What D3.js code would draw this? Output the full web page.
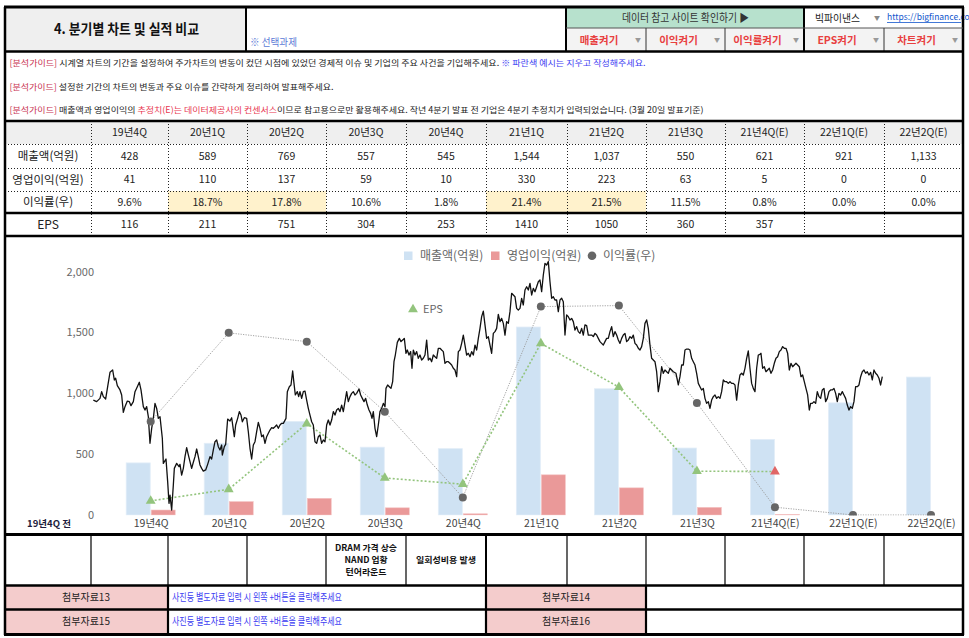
<!DOCTYPE html>
<html><head><meta charset="utf-8">
<script src="https://cdn.jsdelivr.net/npm/d3@7"></script>
<style>
body{margin:0;background:#fff}
svg{display:block}
text{font-family:"Noto Sans CJK KR","Noto Sans",sans-serif}
</style>
</head><body>
<svg id="c" width="969" height="638"></svg>
<script>
// ---------------- DATA ----------------
const quarters = ["19년4Q","20년1Q","20년2Q","20년3Q","20년4Q","21년1Q","21년2Q","21년3Q","21년4Q(E)","22년1Q(E)","22년2Q(E)"];
const sales    = [428,589,769,557,545,1544,1037,550,621,921,1133];
const opProfit = [41,110,137,59,10,330,223,63,5,0,0];
const margin   = [9.6,18.7,17.8,10.6,1.8,21.4,21.5,11.5,0.8,0.0,0.0];
const eps      = [116,211,751,304,253,1410,1050,360,357,null,null];
const epsEstimated = [false,false,false,false,false,false,false,false,true,false,false];
const marginHighlight = [false,true,true,false,false,true,true,false,false,false,false];
const leftTicks = [0,500,1000,1500,2000];
const rowLabels = ["매출액(억원)","영업이익(억원)","이익률(우)","EPS"];
const events = ["","","","DRAM 가격 상승|NAND 업황|턴어라운드","일회성비용 발생","","","","","",""];
const legendItems = ["매출액(억원)","영업이익(억원)","이익률(우)"];
const buttons = ["매출켜기","이익켜기","이익률켜기","EPS켜기","차트켜기"];
const attachments = [["첨부자료13","첨부자료14"],["첨부자료15","첨부자료16"]];
// stock price trace: [session index, price in chart units]
const priceSeries = [[1,944],[11,931],[21,958],[26,1013],[31,972],[38,953],[44,1054],[51,1172],[59,1191],[64,1109],[68,1123],[73,1062],[81,1027],[86,986],[91,843],[96,890],[103,936],[109,931],[114,898],[121,931],[126,1013],[133,1054],[139,1090],[144,1027],[151,890],[156,862],[161,890],[166,808],[171,589],[176,712],[181,794],[186,917],[191,876],[196,794],[201,808],[208,630],[211,424],[219,460],[224,274],[228,96],[231,164],[236,41],[241,246],[244,383],[251,424],[258,397],[261,416],[266,328],[271,383],[276,479],[281,553],[286,493],[291,438],[296,383],[301,433],[306,479],[311,542],[316,479],[321,411],[326,383],[331,361],[338,370],[344,416],[351,479],[356,460],[361,534],[366,602],[371,616],[376,561],[381,534],[386,575],[388,493],[394,561],[398,580],[404,788],[411,772],[416,799],[424,643],[428,739],[434,794],[439,849],[444,821],[448,766],[454,799],[461,794],[466,684],[471,548],[476,460],[481,575],[486,602],[491,684],[496,761],[501,712],[506,643],[511,657],[516,589],[521,643],[526,671],[531,698],[536,717],[541,712],[546,725],[551,739],[556,712],[561,739],[566,753],
[571,753],[579,794],[583,1013],[589,1054],[594,1068],[599,1183],[603,1081],[607,986],[613,1013],[617,972],[621,1013],[626,958],[631,1013],[636,1018],[641,944],[646,876],[651,821],[656,766],[661,739],[666,602],[671,589],[676,643],[681,657],[686,589],[691,616],[696,602],[701,739],[706,780],[711,739],[716,780],[721,849],[726,821],[731,862],[736,876],[741,849],[746,903],[751,849],[756,931],[761,1013],[766,931],[771,972],[776,999],[781,1013],[786,986],[791,999],[798,1035],[803,986],[808,958],[813,931],[818,958],[823,903],[828,862],[833,835],[837,794],[841,849],[846,712],[851,643],[856,739],[861,849],[866,876],[871,917],[876,890],[879,1040],[884,1068],[889,1054],[894,1040],[899,1095],[903,1259],[907,1314],[913,1418],[919,1451],[924,1424],[929,1437],[934,1451],[939,1328],[943,1355],[948,1314],[953,1342],[957,1205],[961,1355],[966,1314],[971,1342],[976,1287],[981,1314],[986,1273],[991,1287],[996,1314],[1001,1437],[1006,1273],[1011,1287],[1016,1259],[1021,1314],[1026,1300],[1031,1287],[1036,1369],[1041,1369],[1046,1355],[1051,1342],[1056,1246],[1061,1259],[1066,1259],[1071,1246],[1076,1232],[1081,1205],[1086,1191],[1091,1136],[1096,1342],[1101,1355],[1106,1410],[1111,1478],[1116,1396],[1121,1314],[1126,1328],[1131,1300],[1136,1342],[1141,1314],
[1146,1396],[1151,1355],[1156,1451],[1161,1533],[1166,1629],[1171,1675],[1176,1561],[1181,1451],[1186,1465],[1191,1396],[1196,1328],[1201,1492],[1206,1506],[1211,1533],[1216,1648],[1221,1588],[1226,1615],[1231,1574],[1236,1478],[1241,1588],[1246,1574],[1251,1670],[1256,1821],[1261,1807],[1266,1793],[1271,1697],[1276,1684],[1281,1697],[1286,1780],[1291,1725],[1296,1848],[1301,1875],[1306,1848],[1311,1903],[1316,1807],[1321,1862],[1326,1834],[1331,1875],[1336,1916],[1341,1930],[1346,1834],[1351,1971],[1356,2067],[1361,2053],[1366,2081],[1371,1916],[1376,1780],[1381,1793],[1386,1766],[1391,1766],[1396,1670],[1401,1766],[1406,1780],[1411,1752],[1416,1478],[1421,1643],[1426,1629],[1431,1602],[1436,1615],[1441,1588],[1446,1519],[1451,1547],[1456,1506],[1461,1492],[1466,1533],[1471,1478],[1476,1561],[1481,1555],[1486,1478],[1491,1478],[1496,1478],[1501,1465],[1506,1492],[1511,1478],[1516,1451],[1521,1424],[1526,1410],[1531,1396],[1536,1424],[1541,1451],[1546,1451],[1551,1506],[1556,1547],[1561,1465],[1566,1506],[1571,1478],[1576,1437],[1581,1410],[1586,1451],[1591,1478],[1596,1492],[1601,1424],[1606,1437],[1611,1465],[1616,1451],[1621,1478],[1626,1410],[1631,1396],[1636,1369],[1641,1355],[1646,1383],[1651,1451],[1656,1574],[1661,1602],[1666,1533],[1671,1396],[1676,1287],[1681,1273],[1686,1259],[1691,1177],[1696,1013],[1701,1095],[1706,1218],[1711,1164],[1716,1191],[1721,1177],[1726,1164],[1731,1205],[1736,1191],[1741,1177],
[1749,1164],[1756,1068],[1761,1136],[1766,1232],[1771,1232],[1776,1355],[1781,1363],[1786,1363],[1791,1355],[1796,1287],[1801,1259],[1806,1232],[1811,1164],[1816,1081],[1821,1054],[1826,1027],[1831,1040],[1836,958],[1841,917],[1846,931],[1851,876],[1856,944],[1861,972],[1866,986],[1871,958],[1876,972],[1881,958],[1886,1013],[1891,1109],[1896,1095],[1901,1095],[1906,1081],[1911,1095],[1916,1081],[1921,1081],[1926,1068],[1931,944],[1936,1068],[1941,1150],[1946,1164],[1951,1150],[1956,1205],[1961,1287],[1966,1347],[1971,1205],[1976,1081],[1981,1040],[1986,1013],[1991,1205],[1996,1314],[2001,1320],[2004,1328],[2009,1205],[2014,1218],[2019,1177],[2024,1191],[2029,1205],[2034,1164],[2039,1191],[2044,1246],[2049,1287],[2054,1300],[2059,1342],[2064,1355],[2069,1383],[2074,1369],[2079,1369],[2084,1328],[2089,1191],[2094,1246],[2099,1218],[2104,1232],[2109,1246],[2114,1232],[2119,1218],[2124,1136],[2129,1150],[2134,1095],[2139,1040],[2144,986],[2149,862],[2153,917],[2158,917],[2163,931],[2168,917],[2173,1013],[2178,972],[2183,958],[2188,1027],[2193,1040],[2198,931],[2203,958],[2208,1013],[2213,1027],[2218,1027],[2223,1040],[2228,999],[2233,931],[2238,999],[2243,986],[2248,1013],[2253,986],[2258,958],[2263,903],[2268,862],[2273,890],[2278,876],[2283,931],[2288,1054],[2293,1054],[2298,1068],[2303,1136],[2308,1177],[2313,1191],[2318,1164],[2323,1177],[2328,1150],[2333,1172],[2338,1109],[2343,1191],[2348,1164],[2353,1150],[2358,1123],[2363,1068],[2368,1136]];

// ---------------- LAYOUT ----------------
const svg = d3.select("#c");
const W = 969, H = 638, L = 5, R = 963;
const colX = [5,91,168,247,326,406,486,567,646,725,804,884,963];
const rowY = [121,144,168,191,213,236];
svg.append("rect").attr("width",W).attr("height",H).attr("fill","#fff");

function txt(g, s, x, y, o = {}) {
  const t = g.append("text").attr("x", x).attr("y", y).attr("dy", "0.35em").text(s)
    .attr("font-size", o.size || 11).attr("fill", o.fill || "#222")
    .attr("text-anchor", o.anchor || "start");
  if (o.bold) t.attr("font-weight", "bold");
  if (o.family) t.attr("font-family", o.family);
  if (o.len) t.attr("textLength", o.len).attr("lengthAdjust", "spacingAndGlyphs");
  return t;
}
function rich(g, x, y, size, len, runs) {
  const t = g.append("text").attr("x", x).attr("y", y).attr("dy", "0.35em").attr("font-size", size)
    .attr("textLength", len).attr("lengthAdjust", "spacingAndGlyphs");
  runs.forEach(r => t.append("tspan").attr("fill", r.fill || "#222").text(r.s));
  return t;
}
function line(x1, y1, x2, y2, w, c, dash) {
  const l = svg.append("line").attr("x1",x1).attr("y1",y1).attr("x2",x2).attr("y2",y2)
    .attr("stroke", c || "#000").attr("stroke-width", w || 1);
  if (dash) l.attr("stroke-dasharray", dash);
  return l;
}

// ---------- header ----------
const hdr = svg.append("g");
hdr.append("rect").attr("x",L).attr("y",7).attr("width",241).attr("height",44).attr("fill","#efefef");
hdr.append("rect").attr("x",566).attr("y",7).attr("width",238).attr("height",21).attr("fill","#b7e1cd");
hdr.append("rect").attr("x",566).attr("y",28).attr("width",397).attr("height",23).attr("fill","#f3f3f3");
txt(hdr, "4. 분기별 차트 및 실적 비교", 54, 29, {size:14, bold:true, fill:"#111", len:145});
txt(hdr, "※ 선택과제", 250, 42, {size:10.5, fill:"#5b7ad6", len:47});
txt(hdr, "데이터 참고 사이트 확인하기 ▶", 622, 18, {size:11, fill:"#333", len:127});
txt(hdr, "빅파이낸스", 815, 18, {size:10.5, fill:"#222", len:45});
txt(hdr, "▼", 877, 18, {size:6, fill:"#888", anchor:"middle"});
txt(hdr, "https://bigfinance.co", 887, 17, {size:8.5, fill:"#1155cc", family:'"Liberation Sans",Arial,sans-serif'});
hdr.append("line").attr("x1",887).attr("x2",961).attr("y1",22.5).attr("y2",22.5).attr("stroke","#1155cc").attr("stroke-width",0.8);
const btnX = [566,646,725,804,884,963];
buttons.forEach((b,i) => {
  const cx = (btnX[i] + btnX[i+1]) / 2 - 7;
  txt(hdr, b, cx, 40, {size:10.5, bold:true, fill:"#e8403f", anchor:"middle"});
  txt(hdr, "▼", btnX[i+1] - 8, 40, {size:6, fill:"#999", anchor:"middle"});
});

// ---------- guide text ----------
const gd = svg.append("g");
const guideColor = "#c8304f";
const gSize = 8.4;
rich(gd, 9.5, 63, gSize, 636, [
  {s:"[분석가이드]", fill:guideColor},
  {s:" 시계열 차트의 기간을 설정하여 주가차트의 변동이 컸던 시점에 있었던 경제적 이슈 및 기업의 주요 사건을 기입해주세요. "},
  {s:" ※ 파란색 예시는 지우고 작성해주세요.", fill:"#3d3df2"}
]);
rich(gd, 9.5, 87, gSize, 324, [
  {s:"[분석가이드]", fill:guideColor},
  {s:" 설정한 기간의 차트의 변동과 주요 이슈를 간략하게 정리하여 발표해주세요."}
]);
rich(gd, 9.5, 110, gSize, 694, [
  {s:"[분석가이드]", fill:guideColor},
  {s:" 매출액과 영업이익의 "},
  {s:"추정치(E)는 데이터제공사의 컨센서스", fill:"#e83850"},
  {s:"이므로 참고용으로만 활용해주세요. 작년 4분기 발표 전 기업은 4분기 추정치가 입력되었습니다. (3월 20일 발표기준)"}
]);

// ---------- data table ----------
const tb = svg.append("g");
tb.append("rect").attr("x",L).attr("y",rowY[0]).attr("width",R-L).attr("height",rowY[1]-rowY[0]).attr("fill","#efefef");
marginHighlight.forEach((h,i) => {
  if (h) tb.append("rect").attr("x",colX[i+1]).attr("y",rowY[3]).attr("width",colX[i+2]-colX[i+1]).attr("height",rowY[4]-rowY[3]).attr("fill","#fff2cc");
});
const cc = i => (colX[i+1] + colX[i+2]) / 2;
const fmt = d3.format(",");
quarters.forEach((q,i) => {
  txt(tb, q, cc(i), (rowY[0]+rowY[1])/2, {size:10.5, fill:"#222", anchor:"middle"});
  txt(tb, fmt(sales[i]), cc(i), (rowY[1]+rowY[2])/2, {size:10.5, anchor:"middle"});
  txt(tb, fmt(opProfit[i]), cc(i), (rowY[2]+rowY[3])/2, {size:10.5, anchor:"middle"});
  txt(tb, margin[i].toFixed(1) + "%", cc(i), (rowY[3]+rowY[4])/2, {size:10.5, anchor:"middle"});
  if (eps[i] != null) txt(tb, String(eps[i]), cc(i), (rowY[4]+rowY[5])/2, {size:10.5, anchor:"middle"});
});
rowLabels.forEach((r,i) => txt(tb, r, 48, (rowY[i+1]+rowY[i+2])/2, {size: i===3 ? 12 : 11.5, anchor:"middle", fill:"#222"}));
colX.slice(1,12).forEach(x => line(x+0.5, rowY[0], x+0.5, rowY[5], 1, "#222", "1,2"));
[rowY[1],rowY[2],rowY[3]].forEach(y => line(L, y+0.5, R, y+0.5, 1, "#222", "1,2"));

// ---------- chart ----------
const chart = svg.append("g");
const x = d3.scalePoint().domain(quarters).range([150.7, 931]);
const y = d3.scaleLinear().domain([0, 2000]).range([515, 271.5]);
const yR = d3.scaleLinear().domain([0, 25]).range([515, 271.5]);
const xP = d3.scaleLinear().domain([0, 2368]).range([93, 882.3]);
const defs = svg.append("defs");
defs.append("clipPath").attr("id","plotClip").append("rect").attr("x",90).attr("y",238).attr("width",872).attr("height",277.5);
const plot = chart.append("g").attr("clip-path","url(#plotClip)");

const ya = chart.append("g").attr("transform","translate(94,0)")
  .call(d3.axisLeft(y).tickValues(leftTicks).tickSize(0).tickPadding(0).tickFormat(d3.format(",")));
ya.select(".domain").remove();
ya.selectAll("text").attr("font-size",11).attr("fill","#6a6a6a").attr("font-family",'"Noto Sans CJK KR",sans-serif');
const xa = chart.append("g").attr("transform","translate(0,515)")
  .call(d3.axisBottom(x).tickSize(0).tickPadding(5));
xa.select(".domain").remove();
xa.selectAll("text").attr("font-size",10.5).attr("fill","#444").attr("font-family",'"Noto Sans CJK KR",sans-serif');
txt(chart, "19년4Q 전", 49, 524, {size:9.5, bold:true, fill:"#1d1d3d", anchor:"middle"});

plot.selectAll(".sb").data(quarters).join("rect").attr("class","sb")
  .attr("x", q => x(q) - 24.5).attr("width", 24)
  .attr("y", (q,i) => y(sales[i])).attr("height", (q,i) => y(0) - y(sales[i]))
  .attr("fill","#cfe2f3").attr("stroke","#e2edf8").attr("stroke-width",0.8);
plot.selectAll(".ob").data(quarters).join("rect").attr("class","ob")
  .attr("x", q => x(q) + 0.5).attr("width", 24)
  .attr("y", (q,i) => y(opProfit[i])).attr("height", (q,i) => y(0) - y(opProfit[i]))
  .attr("fill","#ea9999").attr("stroke","#f4c4c4").attr("stroke-width",0.6);

plot.append("path").datum(margin)
  .attr("d", d3.line().x((d,i) => x(quarters[i])).y(d => yR(d)))
  .attr("fill","none").attr("stroke","#999").attr("stroke-width",0.9).attr("stroke-dasharray","1.2,1.3");
plot.append("path").datum(eps.map((v,i) => [i,v]).filter(d => d[1] != null))
  .attr("d", d3.line().x(d => x(quarters[d[0]])).y(d => y(d[1])))
  .attr("fill","none").attr("stroke","#93c47d").attr("stroke-width",1.6).attr("stroke-dasharray","2,2");
plot.append("path").datum(priceSeries)
  .attr("d", d3.line().x(d => xP(d[0])).y(d => y(d[1])))
  .attr("fill","none").attr("stroke","#111").attr("stroke-width",1.3).attr("stroke-linejoin","round");
plot.selectAll(".md").data(margin).join("circle").attr("class","md")
  .attr("cx", (d,i) => x(quarters[i])).attr("cy", d => yR(d)).attr("r", 4).attr("fill","#666");
const tri = d3.symbol().type(d3.symbolTriangle).size(42);
plot.selectAll(".et").data(eps.map((v,i) => [i,v]).filter(d => d[1] != null)).join("path").attr("class","et")
  .attr("d", tri).attr("transform", d => `translate(${x(quarters[d[0]])},${y(d[1])})`)
  .attr("fill", d => epsEstimated[d[0]] ? "#e06666" : "#93c47d");

const lg = chart.append("g");
const lgX = [404, 491, 592];
const lgTX = [420, 507, 603];
lg.append("rect").attr("x",lgX[0]).attr("y",251.5).attr("width",8.5).attr("height",8.5).attr("fill","#cfe2f3");
lg.append("rect").attr("x",lgX[1]).attr("y",251.5).attr("width",8.5).attr("height",8.5).attr("fill","#ea9999");
lg.append("circle").attr("cx",lgX[2]).attr("cy",255.8).attr("r",4.3).attr("fill","#666");
legendItems.forEach((t,i) => txt(lg, t, lgTX[i], 255.5, {size:12, fill:"#666"}));
lg.append("path").attr("d", tri).attr("transform","translate(413,309.5)").attr("fill","#93c47d");
txt(lg, "EPS", 423, 309.5, {size:11, fill:"#666"});

// ---------- bottom section ----------
const bt = svg.append("g");
const eventWidths = {"DRAM 가격 상승":62, "NAND 업황":43, "턴어라운드":41, "일회성비용 발생":60};
events.forEach((e,i) => {
  if (!e) return;
  const parts = e.split("|");
  parts.forEach((p,k) => txt(bt, p, cc(i), 560 + (k - (parts.length-1)/2) * 12.4,
    {size:8.5, bold:true, fill:"#111", anchor:"middle", len: eventWidths[p]}));
});
attachments.forEach((row,r) => {
  const y0 = 586 + r*24, h = 23;
  bt.append("rect").attr("x",L).attr("y",y0).attr("width",168-L).attr("height",h).attr("fill","#f4cccc");
  bt.append("rect").attr("x",486).attr("y",y0).attr("width",160).attr("height",h).attr("fill","#f4cccc");
  txt(bt, row[0], 86, y0 + h/2, {size:10, fill:"#222", anchor:"middle"});
  txt(bt, row[1], 566, y0 + h/2, {size:10, fill:"#222", anchor:"middle"});
  txt(bt, "사진등 별도자료 입력 시 왼쪽 +버튼을 클릭해주세요", 172, y0 + h/2, {size:10, fill:"#3d3df2", len:170});
});

// ---------- borders ----------
line(L-1, 7, R+1, 7, 3);
line(L, 7, L, 635, 2.5);
line(R, 7, R, 635, 2.5);
line(246, 7, 246, 51, 2);
line(566, 7, 566, 51, 2);
line(804, 7, 804, 51, 2);
line(566, 28, R, 28, 1, "#555");
[646, 725, 884].forEach(xx => line(xx, 28, xx, 51, 1, "#333"));
line(L, 51.5, R, 51.5, 2.5);
line(L, 121, R, 121, 2.5);
line(L, 213, R, 213, 2.5);
line(L, 236, R, 236, 2.5);
line(L, 534.5, R, 534.5, 3);
colX.slice(1,12).forEach(xx => line(xx, 535, xx, 585, xx === 486 ? 2 : 1.2));
line(L, 585.5, R, 585.5, 2.5);
line(L, 609.5, R, 609.5, 2.5);
line(L-1, 634.5, R+1, 634.5, 3);
[168, 486, 646].forEach(xx => line(xx, 585, xx, 634, 2.2));
</script>
</body></html>
